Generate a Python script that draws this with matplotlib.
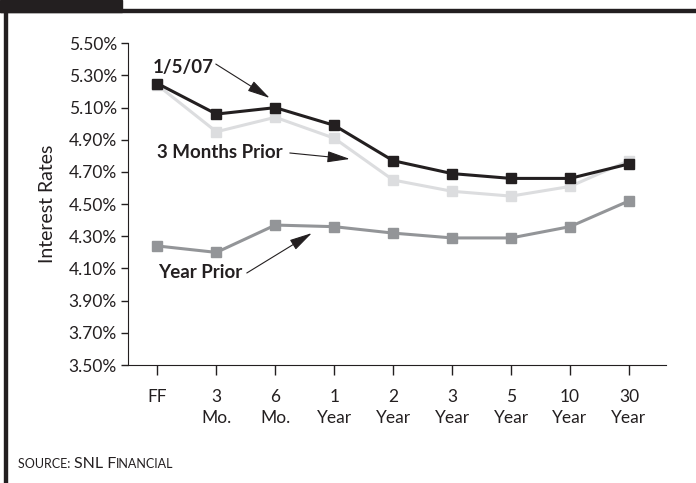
import matplotlib
matplotlib.use("Agg")
import matplotlib.pyplot as plt
from matplotlib.patches import Rectangle

# data
maturities = ["FF", "3\nMo.", "6\nMo.", "1\nYear", "2\nYear", "3\nYear", "5\nYear", "10\nYear", "30\nYear"]
rates_current = [5.25, 5.06, 5.10, 4.99, 4.77, 4.69, 4.66, 4.66, 4.75]
rates_3m_prior = [5.24, 4.95, 5.04, 4.91, 4.65, 4.58, 4.55, 4.61, 4.77]
rates_year_prior = [4.24, 4.20, 4.37, 4.36, 4.32, 4.29, 4.29, 4.36, 4.52]
y_ticks = [3.5, 3.7, 3.9, 4.1, 4.3, 4.5, 4.7, 4.9, 5.1, 5.3, 5.5]

plt.rcParams["font.family"] = ["Lato", "DejaVu Sans"]
ink = "#231f20"

W, H = 696, 483
fig = plt.figure(figsize=(W / 100, H / 100), dpi=100)
ax = fig.add_axes([128 / W, 1 - 365 / H, (666 - 128) / W, (365 - 43.3) / H])

x = list(range(len(maturities)))
ax.plot(x, rates_year_prior, color="#939598", lw=2.2, marker="s", ms=7.8, zorder=3)
ax.plot(x, rates_3m_prior, color="#dcdddf", lw=2.2, marker="s", ms=7.8, zorder=3)
ax.plot(x, rates_current, color=ink, lw=2.2, marker="s", ms=7.8, zorder=4)

ax.set_xlim(-0.5, 8.63)
ax.set_ylim(3.5, 5.5)
ax.set_yticks(y_ticks)
ax.set_yticklabels([f"{v:.2f}%" for v in y_ticks])
ax.set_xticks(x)
ax.set_xticklabels(maturities, linespacing=1.4)
ax.tick_params(axis="y", length=5, width=1, colors=ink, labelsize=12.5, pad=3)
ax.tick_params(axis="x", length=7, width=1, colors=ink, labelsize=12.5, pad=10)
ax.spines["top"].set_visible(False)
ax.spines["right"].set_visible(False)
ax.spines["left"].set_color(ink)
ax.spines["bottom"].set_color(ink)
ax.set_ylabel("Interest Rates", fontsize=14, color=ink)
ax.yaxis.set_label_coords(-0.134, 0.5)

lbl = dict(fontsize=13.5, fontweight="bold", color=ink, va="center", ha="left")
arrow = dict(arrowstyle="-|>,head_length=1.4,head_width=0.35", color=ink, lw=0.8, shrinkA=0, shrinkB=0)
ax.text(-0.08, 5.35, "1/5/07", **lbl)
ax.annotate("", xy=(1.905, 5.16), xytext=(0.99, 5.371), arrowprops=arrow)
ax.text(-0.01, 4.824, "3 Months Prior", **lbl)
ax.annotate("", xy=(3.265, 4.781), xytext=(2.246, 4.818), arrowprops=arrow)
ax.text(0.005, 4.078, "Year Prior", **lbl)
ax.annotate("", xy=(2.62, 4.32), xytext=(1.516, 4.072), arrowprops=arrow)

# page frame
fig.patches.append(Rectangle((0, 1 - 12 / H), 122 / W, 12 / H, transform=fig.transFigure, color=ink))
fig.patches.append(Rectangle((0, 1 - 12 / H), 1, 3 / H, transform=fig.transFigure, color=ink))
fig.patches.append(Rectangle((4 / W, 0), 3 / W, 1 - 9 / H, transform=fig.transFigure, color=ink))

# source line in small caps
t1 = fig.text(18 / W, 1 - 468 / H, "SOURCE: ", fontsize=9, color=ink, va="baseline")
t2 = fig.text(0, 0, "SNL F", fontsize=11.5, color=ink, va="baseline")
fig.canvas.draw()
r = fig.canvas.get_renderer()
bb = t1.get_window_extent(r)
t2.set_position((bb.x1 / W, 1 - 468 / H))
bb2 = t2.get_window_extent(r)
fig.text(bb2.x1 / W, 1 - 468 / H, "INANCIAL", fontsize=9, color=ink, va="baseline")

fig.savefig("out.png", dpi=100)
